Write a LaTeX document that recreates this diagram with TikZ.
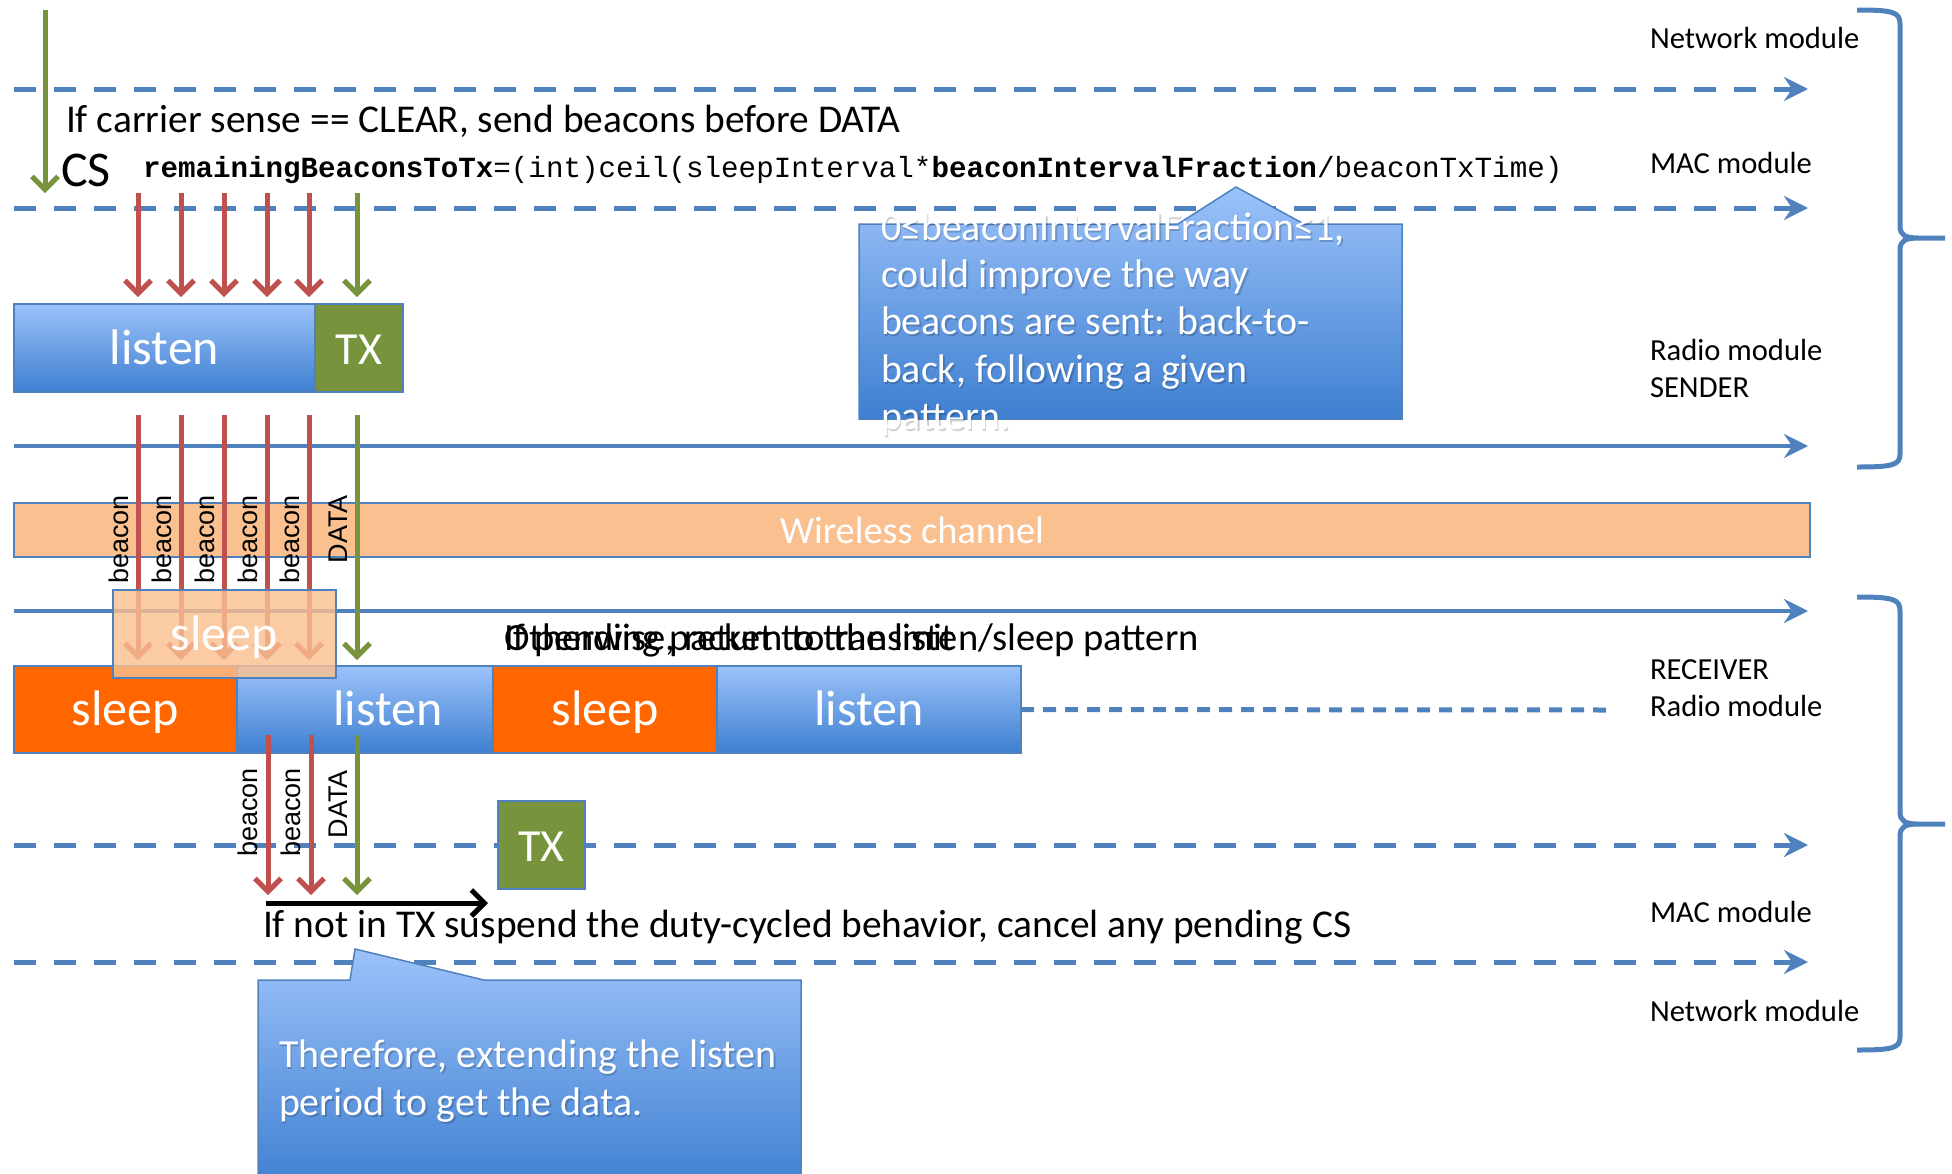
\documentclass[tikz,border=0pt]{standalone}
\usepackage{fontspec}
\setmainfont{Carlito}
\newfontfamily\lblfont{Liberation Sans}
\newfontfamily\codefont{Liberation Mono}
\usetikzlibrary{arrows.meta}

\definecolor{lineblue}{RGB}{79,129,189}
\definecolor{arrred}{RGB}{192,80,77}
\definecolor{arrgreen}{RGB}{119,147,60}
\definecolor{sleeporange}{RGB}{255,102,0}
\definecolor{peach}{RGB}{250,192,144}
\definecolor{lighttop}{RGB}{155,194,250}
\definecolor{darkbot}{RGB}{62,127,208}

% white callout text with a soft dark shadow behind it
\newcommand{\callline}[4]{%
  \node[calltext,text=black,text opacity=0.18] (#1-sh) at (#2+1.5,#3+2.5) {#4};
  \node[calltext] (#1) at (#2,#3) {#4};}

\begin{document}
\begin{tikzpicture}[x=1pt,y=-1pt,
  every node/.style={inner sep=0pt,outer sep=0pt},
  body/.style={font=\fontsize{39.4}{47}\selectfont,anchor=base west},
  modlabel/.style={font=\fontsize{30.6}{36}\selectfont,anchor=base west},
  calltext/.style={font=\fontsize{39.9}{47}\selectfont,anchor=base west,text=white},
  pkt/.style={font=\lblfont\fontsize{27}{32}\selectfont,rotate=90,anchor=base east},
  layerdash/.style={lineblue,line width=5pt,dash pattern=on 22pt off 18pt,
    -{Stealth[length=24pt,width=24pt,inset=8pt]}},
  layersolid/.style={lineblue,line width=4.5pt,
    -{Stealth[length=24pt,width=24pt,inset=8pt]}},
  finedash/.style={lineblue,line width=5pt,dash pattern=on 13pt off 9pt},
  redarr/.style={arrred,line width=5pt,-{Straight Barb[length=13pt,width=26pt]}},
  greenarr/.style={arrgreen,line width=5pt,-{Straight Barb[length=13pt,width=26pt]}},
  slot/.style={draw=lineblue,line width=2.5pt,anchor=north west,text=white,
    font=\fontsize{50}{60}\selectfont,text height=32pt,text depth=0pt},
  listenslot/.style={slot,top color=lighttop,bottom color=darkbot},
  sleepslot/.style={slot,fill=sleeporange},
  txslot/.style={slot,fill=arrgreen,font=\fontsize{46}{56}\selectfont},
  callout/.style={draw=lineblue,line width=1.5pt,top color=lighttop,bottom color=darkbot},
  brace/.style={lineblue,line width=5pt}
]
\useasboundingbox (0,0) rectangle (1952,1173);

% ---------- layer lines ----------
\coordinate (netSl) at (14,89);   \coordinate (netSr) at (1808,89);
\coordinate (macSl) at (14,208);  \coordinate (macSr) at (1808,208);
\coordinate (radSl) at (14,446);  \coordinate (radSr) at (1808,446);
\coordinate (radRl) at (14,611);  \coordinate (radRr) at (1808,611);
\coordinate (macRl) at (14,845);  \coordinate (macRr) at (1808,845);
\coordinate (netRl) at (14,962);  \coordinate (netRr) at (1808,962);
\coordinate (idleR) at (1610,710);

\draw[layerdash] (netSl) -- (netSr);
\draw[layerdash] (macSl) -- (macSr);
\draw[layersolid] (radSl) -- (radSr);
\draw[layersolid] (radRl) -- (radRr);
\draw[layerdash] (macRl) -- (macRr);
\draw[layerdash] (netRl) -- (netRr);

% ---------- wireless channel ----------
\node[draw=lineblue,line width=2pt,fill=peach,anchor=north west,
  minimum width=1796pt,minimum height=54pt,text=white,
  font=\fontsize{38.3}{46}\selectfont,text height=26pt,text depth=0pt]
  (chan) at (14,503) {Wireless channel};

% ---------- sender radio ----------
\node[listenslot,minimum width=301pt,minimum height=88pt] (sListen) at (14,304) {listen};
\node[txslot,minimum width=88pt,minimum height=88pt] (sTX) at (315,304) {TX};

% ---------- receiver radio ----------
\node[sleepslot,minimum width=223pt,minimum height=87pt] (rSleepA) at (14,666) {sleep};
\node[listenslot,minimum width=256pt,minimum height=87pt] (rListenA) at (237,666) {\hspace*{46pt}listen};
\node[sleepslot,minimum width=224pt,minimum height=87pt] (rSleepB) at (493,666) {sleep};
\node[listenslot,minimum width=304pt,minimum height=87pt] (rListenB) at (717,666) {listen};
\draw[finedash] (rListenB.east) -- (idleR);

% ---------- receiver MAC TX ----------
\node[txslot,minimum width=87pt,minimum height=88pt] (rTX) at (498,801) {TX};

% ---------- carrier sense ----------
\coordinate (csTop) at (45,10); \coordinate (csTip) at (45,193);
\draw[greenarr] (csTop) -- (csTip);

% ---------- frames: MAC -> radio -> channel -> receiver ----------
\foreach \i/\x in {1/138,2/181,3/224,4/267,5/309}{
  \coordinate (upS\i) at (\x,193); \coordinate (upE\i) at (\x,297);
  \coordinate (mdS\i) at (\x,415); \coordinate (mdE\i) at (\x,660);
  \draw[redarr] (upS\i) -- (upE\i);
  \draw[redarr] (mdS\i) -- (mdE\i);
  \node[pkt] (bcn\i) at (\x-10,495) {beacon};
}
\coordinate (upS6) at (357,193); \coordinate (upE6) at (357,297);
\coordinate (mdS6) at (357,415); \coordinate (mdE6) at (357,660);
\draw[greenarr] (upS6) -- (upE6);
\draw[greenarr] (mdS6) -- (mdE6);
\node[pkt] (dat1) at (347,495) {DATA};

% receiver radio -> MAC
\coordinate (loS1) at (268,735); \coordinate (loE1) at (268,895);
\coordinate (loS2) at (311,735); \coordinate (loE2) at (311,895);
\coordinate (loS3) at (357,735); \coordinate (loE3) at (357,895);
\draw[redarr] (loS1) -- (loE1);
\draw[redarr] (loS2) -- (loE2);
\draw[greenarr] (loS3) -- (loE3);
\node[pkt] (bcnL1) at (257,768) {beacon};
\node[pkt] (bcnL2) at (300,768) {beacon};
\node[pkt] (datL) at (347,770) {DATA};

% translucent sleep period overlapping the receiver schedule
\node[draw=lineblue,line width=2pt,fill=peach,fill opacity=0.82,text opacity=1,
  anchor=north west,minimum width=223pt,minimum height=88pt,text=white,
  font=\fontsize{50}{60}\selectfont,text height=32pt,text depth=0pt]
  (ghost) at (113,590) {sleep};

% suspension arrow
\coordinate (susA) at (266,903); \coordinate (susB) at (488,903);
\draw[black,line width=5pt,-{Straight Barb[length=13pt,width=26pt]}] (susA) -- (susB);

% ---------- texts ----------
\node[body] (cond) at (66,132) {If carrier sense == CLEAR, send beacons before DATA};
\node[font=\fontsize{50}{60}\selectfont,anchor=base west] (cs) at (61,186) {CS};
\node[font=\codefont\fontsize{29.2}{35}\selectfont,anchor=base west] (code) at (143,177)
  {\textbf{remainingBeaconsToTx}=(int)ceil(sleepInterval*\textbf{beaconIntervalFraction}/beaconTxTime)};
\node[body,font=\fontsize{38.5}{46}\selectfont] (pend) at (504,650) {If pending packet to transmit};
\node[body,font=\fontsize{38.5}{46}\selectfont] (other) at (504,650) {Otherwise, return to the listen/sleep pattern};
\node[body] (notx) at (263,937) {If not in TX suspend the duty-cycled behavior, cancel any pending CS};

% ---------- layer names ----------
\node[modlabel] (nNetS) at (1650,48) {Network module};
\node[modlabel] (nMacS) at (1650,173) {MAC module};
\node[modlabel] (nRadS1) at (1650,360) {Radio module};
\node[modlabel] (nRadS2) at (1650,397) {SENDER};
\node[modlabel] (nRadR1) at (1650,679) {RECEIVER};
\node[modlabel] (nRadR2) at (1650,716) {Radio module};
\node[modlabel] (nMacR) at (1650,922) {MAC module};
\node[modlabel] (nNetR) at (1650,1021) {Network module};

% ---------- braces ----------
\draw[brace] (1857,10) .. controls (1893,10) and (1900,12) .. (1900,24) -- (1900,226)
  .. controls (1900,235) and (1905,238) .. (1918,238) -- (1945,238)
  (1918,238) .. controls (1905,238) and (1900,241) .. (1900,250) -- (1900,454)
  .. controls (1900,465) and (1893,467) .. (1857,467);
\draw[brace] (1857,597) .. controls (1893,597) and (1900,599) .. (1900,611) -- (1900,812)
  .. controls (1900,821) and (1905,824) .. (1918,824) -- (1945,824)
  (1918,824) .. controls (1905,824) and (1900,827) .. (1900,836) -- (1900,1037)
  .. controls (1900,1048) and (1893,1050) .. (1857,1050);

% ---------- callouts ----------
\path[callout] (859,224) -- (1178,224) -- (1236,187) -- (1304,224) -- (1402,224)
  -- (1402,419) -- (859,419) -- cycle;
\callline{fr1}{881}{240}{0≤beaconIntervalFraction≤1,}
\callline{fr2}{881}{287}{could improve the way}
\callline{fr3}{881}{334}{beacons are sent: back-to-}
\callline{fr4}{881}{382}{back, following a given}
\callline{fr5}{881}{429}{pattern.}

\path[callout] (258,980) -- (350,980) -- (355,949) -- (484,980) -- (801,980)
  -- (801,1190) -- (258,1190) -- cycle;
\callline{ext1}{279}{1067}{Therefore, extending the listen}
\callline{ext2}{279}{1115}{period to get the data.}

\end{tikzpicture}
\end{document}
